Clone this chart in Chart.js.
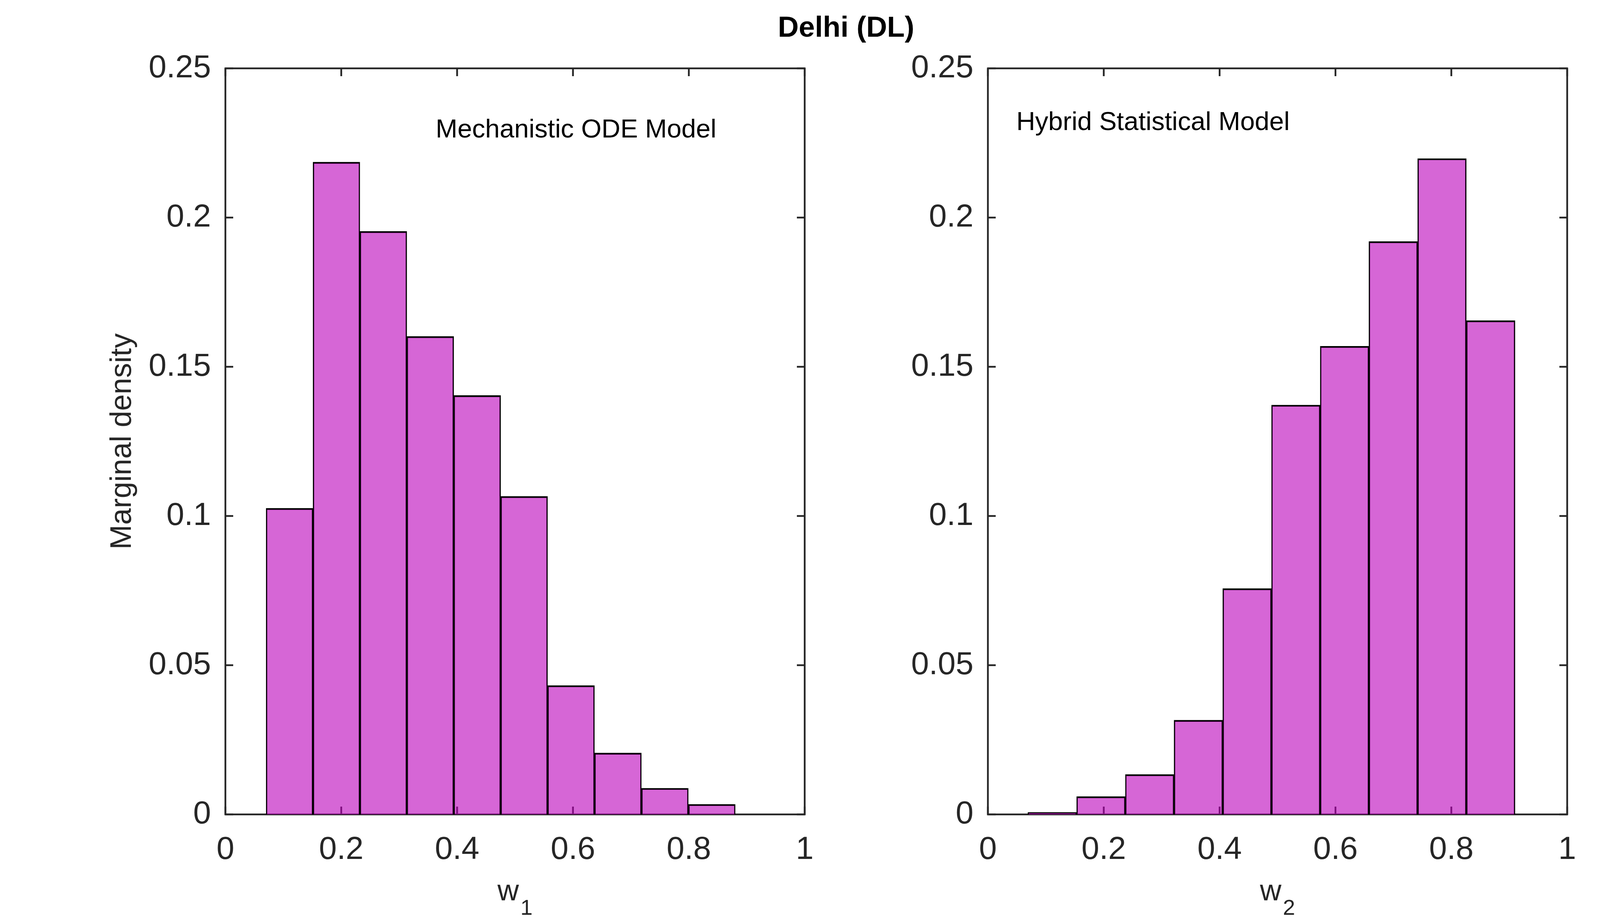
<!DOCTYPE html>
<html>
<head>
<meta charset="utf-8">
<script src="https://cdn.jsdelivr.net/npm/chart.js@4.4.1/dist/chart.umd.min.js"></script>
<style>
  html, body { margin: 0; padding: 0; background: #fff; }
  #wrap { position: relative; width: 4431px; height: 2363px; }
  #wrap canvas { position: absolute; left: 0; top: 0; }
</style>
</head>
<body>
<div id="wrap">
  <canvas id="left" width="4431" height="2363"></canvas>
  <canvas id="right" width="4431" height="2363"></canvas>
</div>
<script>
// Histogram bins (edges) and marginal densities
const w1Edges = [0.0702, 0.1512, 0.2322, 0.3132, 0.3942, 0.4752, 0.5562, 0.6372, 0.7182, 0.7992, 0.8802];
const w1Density = [0.1026, 0.2186, 0.1954, 0.1602, 0.1404, 0.1066, 0.0432, 0.0206, 0.0088, 0.0034];
const w2Edges = [0.0690, 0.1531, 0.2372, 0.3213, 0.4054, 0.4895, 0.5736, 0.6577, 0.7418, 0.8259, 0.9100];
const w2Density = [0.0007, 0.0060, 0.0134, 0.0316, 0.0757, 0.1372, 0.1569, 0.1920, 0.2198, 0.1655];

const xTicks = [0, 0.2, 0.4, 0.6, 0.8, 1];
const yTicks = [0, 0.05, 0.1, 0.15, 0.2, 0.25];

const FONT = '"Liberation Sans", Arial, Helvetica, sans-serif';
const AXIS = '#262626';
const TICK = 20;

Chart.defaults.font.family = FONT;
Chart.defaults.color = AXIS;

// box, inner ticks and text labels (MATLAB-like axes)
function frame(note, sub, withTitle) {
  return {
    id: 'frame',
    beforeDatasetsDraw(chart) {
      const { ctx, chartArea: a, scales: { x, y } } = chart;
      ctx.save();
      ctx.strokeStyle = AXIS;
      ctx.lineWidth = 4.5;
      ctx.beginPath();
      x.ticks.forEach(t => {
        const px = x.getPixelForValue(t.value);
        ctx.moveTo(px, a.bottom); ctx.lineTo(px, a.bottom - TICK);
        ctx.moveTo(px, a.top); ctx.lineTo(px, a.top + TICK);
      });
      y.ticks.forEach(t => {
        const py = y.getPixelForValue(t.value);
        ctx.moveTo(a.left, py); ctx.lineTo(a.left + TICK, py);
        ctx.moveTo(a.right, py); ctx.lineTo(a.right - TICK, py);
      });
      ctx.stroke();
      ctx.strokeRect(a.left, a.top, a.right - a.left, a.bottom - a.top);
      ctx.restore();
    },
    afterDraw(chart) {
      const { ctx, chartArea: a, scales: { x, y } } = chart;
      ctx.save();
      ctx.textBaseline = 'alphabetic';
      ctx.textAlign = 'left';

      // annotation inside the axes
      ctx.fillStyle = '#000';
      ctx.font = '67px ' + FONT;
      ctx.fillText(note.text, x.getPixelForValue(note.at[0]), y.getPixelForValue(note.at[1]));

      // x label: w with subscript
      ctx.fillStyle = AXIS;
      ctx.font = '76px ' + FONT;
      const ww = ctx.measureText('w').width;
      ctx.font = '56px ' + FONT;
      const sw = ctx.measureText(sub).width;
      const start = (a.left + a.right) / 2 - (ww + 4 + sw) / 2;
      ctx.font = '76px ' + FONT;
      ctx.fillText('w', start, a.bottom + 220);
      ctx.font = '56px ' + FONT;
      ctx.fillText(sub, start + ww + 4, a.bottom + 257);

      if (withTitle) {
        ctx.fillStyle = '#000';
        ctx.font = 'bold 74px ' + FONT;
        ctx.textAlign = 'center';
        ctx.fillText('Delhi (DL)', 2166, 94);
      }
      ctx.restore();
    }
  };
}

function makeChart(id, edges, dens, o) {
  const centers = dens.map((_, i) => (edges[i] + edges[i + 1]) / 2);
  return new Chart(document.getElementById(id), {
    type: 'bar',
    data: {
      datasets: [{
        data: centers.map((c, i) => ({ x: c, y: dens[i] })),
        backgroundColor: 'rgba(186, 0, 186, 0.6)',
        borderColor: '#000',
        borderWidth: { top: 4, left: 2.75, right: 2.75, bottom: 0 },
        borderSkipped: 'start',
        barPercentage: 1,
        categoryPercentage: 1
      }]
    },
    options: {
      responsive: false,
      animation: false,
      devicePixelRatio: 1,
      layout: { padding: { left: o.padLeft, right: o.padRight, top: 175, bottom: 0 } },
      plugins: { legend: { display: false }, tooltip: { enabled: false } },
      scales: {
        x: {
          type: 'linear', min: 0, max: 1, offset: false,
          grid: { display: false, drawTicks: false },
          border: { display: false },
          afterBuildTicks: s => { s.ticks = xTicks.map(v => ({ value: v })); },
          afterFit: s => { s.height = 278; },
          ticks: { padding: 42, font: { size: 82 }, color: AXIS, maxRotation: 0, autoSkip: false, callback: v => String(v) }
        },
        y: {
          type: 'linear', min: 0, max: 0.25,
          grid: { display: false, drawTicks: false },
          border: { display: false },
          afterBuildTicks: s => { s.ticks = yTicks.map(v => ({ value: v })); },
          afterFit: s => { s.width = o.yWidth; },
          ticks: { padding: 37, font: { size: 82 }, color: AXIS, autoSkip: false, callback: v => String(v) },
          title: {
            display: o.yTitle,
            text: 'Marginal density',
            color: AXIS,
            font: { size: 76 },
            padding: { top: 268, bottom: 0 }
          }
        }
      }
    },
    plugins: [frame(o.note, o.sub, o.withTitle)]
  });
}

makeChart('left', w1Edges, w1Density, {
  padLeft: 0, padRight: 2371, yWidth: 577, yTitle: true, withTitle: true, sub: '1',
  note: { text: 'Mechanistic ODE Model', at: [0.363, 0.2268] }
});
makeChart('right', w2Edges, w2Density, {
  padLeft: 2215, padRight: 419, yWidth: 314, yTitle: false, withTitle: false, sub: '2',
  note: { text: 'Hybrid Statistical Model', at: [0.049, 0.2293] }
});
</script>
</body>
</html>
